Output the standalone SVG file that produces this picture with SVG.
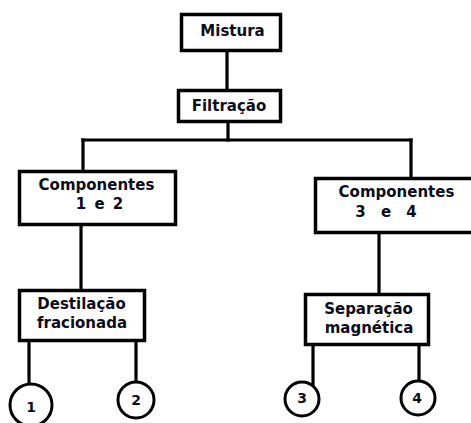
<svg xmlns="http://www.w3.org/2000/svg" width="471" height="423" viewBox="0 0 471 423">
<style>
.box{fill:#fff;stroke:#000;stroke-width:3.5}
.circ{fill:#fff;stroke:#000;stroke-width:3}
.ln{stroke:#000;stroke-width:3.2;fill:none;stroke-linecap:square}
text{font-family:"DejaVu Sans",Verdana,sans-serif;font-weight:bold;font-size:15px;fill:#0d0d1a;text-anchor:middle}
.num{font-size:14px}
</style>
<rect width="471" height="423" fill="#fff"/>
<g id="connectors">
<line class="ln" x1="227" y1="52" x2="227" y2="89"/>
<line class="ln" x1="228" y1="123" x2="228" y2="140"/>
<line class="ln" x1="83" y1="140" x2="411" y2="140"/>
<line class="ln" x1="83" y1="140" x2="83" y2="171"/>
<line class="ln" x1="411" y1="140" x2="411" y2="178"/>
<line class="ln" x1="81" y1="226" x2="81" y2="289"/>
<line class="ln" x1="379" y1="234" x2="379" y2="293"/>
<line class="ln" x1="29" y1="342" x2="29" y2="384"/>
<line class="ln" x1="136" y1="342" x2="136" y2="382"/>
<line class="ln" x1="313" y1="346" x2="313" y2="385"/>
<line class="ln" x1="419" y1="346" x2="419" y2="381"/>
</g>
<g id="mistura">
<rect class="box" x="181.5" y="14.5" width="99" height="36"/>
<text x="232.5" y="36">Mistura</text>
</g>
<g id="filtracao">
<rect class="box" x="178.5" y="90.5" width="102" height="31"/>
<text x="229" y="111">Filtração</text>
</g>
<g id="comp12">
<rect class="box" x="19.5" y="171.5" width="156" height="53"/>
<text x="96.5" y="190">Componentes</text>
<text x="99.5" y="209" word-spacing="3">1 e 2</text>
</g>
<g id="comp34">
<rect class="box" x="315.5" y="178.5" width="162" height="54"/>
<text x="396.5" y="197">Componentes</text>
<text x="386" y="217" word-spacing="10">3 e 4</text>
</g>
<g id="destilacao">
<rect class="box" x="19.5" y="290.5" width="125" height="50"/>
<text x="81.5" y="309">Destilação</text>
<text x="82" y="328">fracionada</text>
</g>
<g id="separacao">
<rect class="box" x="305.5" y="294.5" width="123" height="50"/>
<text x="368.5" y="314">Separação</text>
<text x="369" y="333">magnética</text>
</g>
<g id="n1">
<circle class="circ" cx="31" cy="405" r="21"/>
<text class="num" x="31" y="412">1</text>
</g>
<g id="n2">
<circle class="circ" cx="136" cy="400" r="18"/>
<text class="num" x="136" y="405">2</text>
</g>
<g id="n3">
<circle class="circ" cx="302" cy="399" r="17"/>
<text class="num" x="302" y="403">3</text>
</g>
<g id="n4">
<circle class="circ" cx="418" cy="398" r="17"/>
<text class="num" x="417" y="403">4</text>
</g>
</svg>
